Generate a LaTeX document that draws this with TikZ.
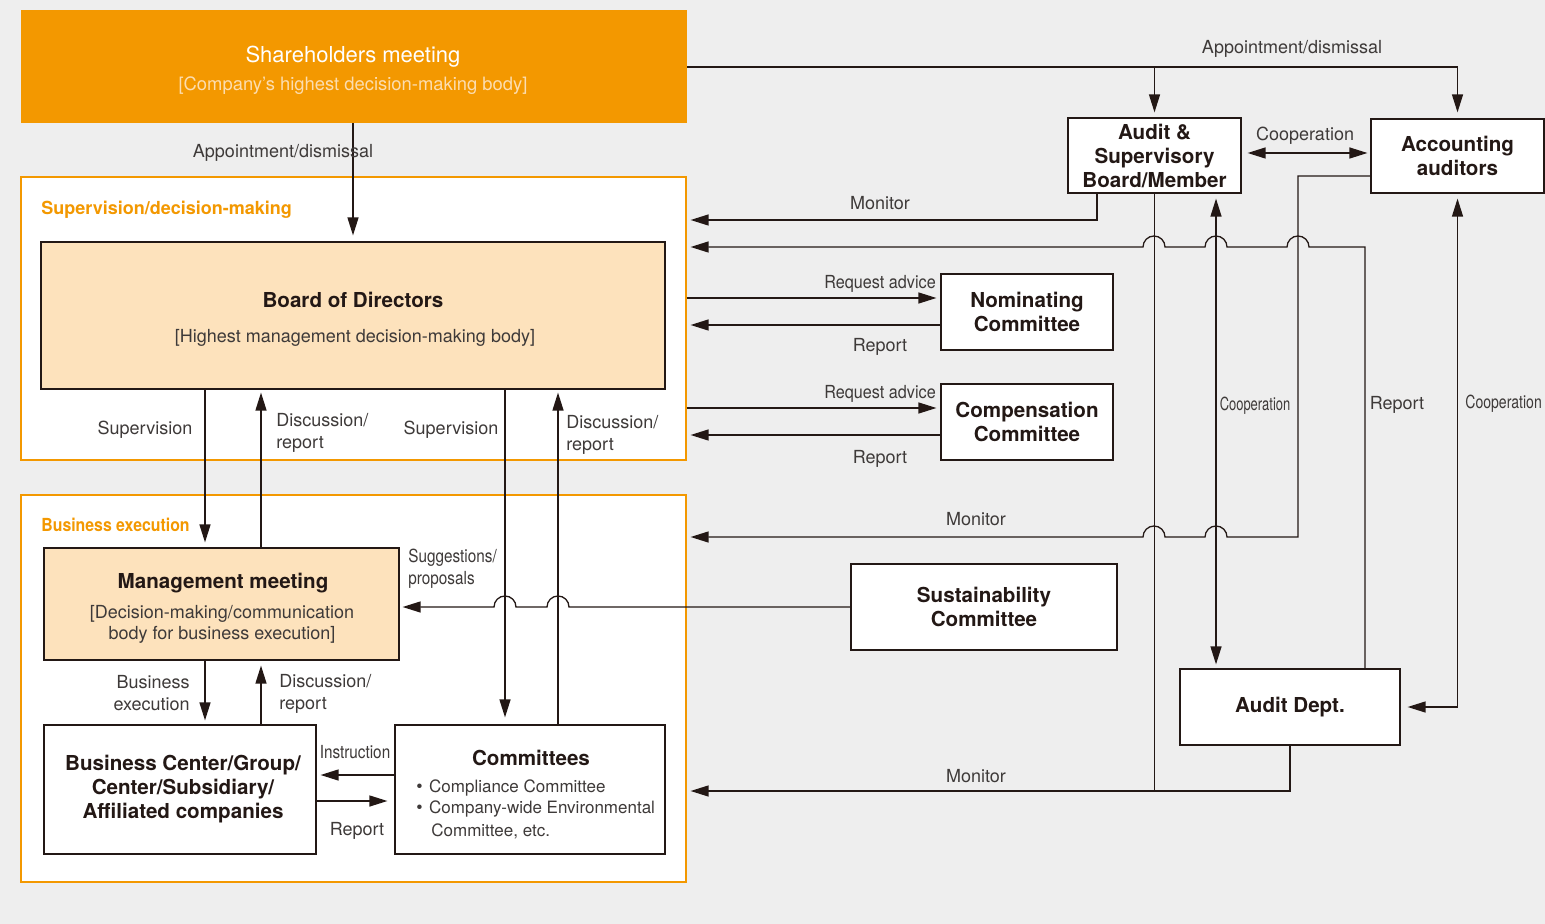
\documentclass[tikz,border=0pt]{standalone}
\usepackage{fontspec}
\usepackage{graphicx}
\setmainfont{TeX Gyre Heros}
\usetikzlibrary{arrows.meta}
\definecolor{bg}{HTML}{EEEEEE}
\definecolor{org}{HTML}{F39800}
\definecolor{peach}{HTML}{FDE2BC}
\definecolor{ln}{HTML}{231815}
\definecolor{txt}{HTML}{3E3A39}
\definecolor{cream}{HTML}{FCDDB0}
\newcommand\lblf{\fontsize{9}{11}\selectfont}
\newcommand\boxf{\fontsize{10.3}{12}\selectfont\bfseries}
\newcommand\smallbullet{{\fontsize{9}{10}\selectfont\textbullet}\hspace{3.2pt}}
\begin{document}
\begin{tikzpicture}[x=0.5pt,y=-0.5pt,
  box/.style={draw=ln,line width=0.6pt,fill=white,inner sep=0pt,align=center,font=\boxf,text=ln},
  region/.style={draw=org,line width=0.6pt,fill=white,inner sep=0pt},
  lbl/.style={font=\lblf,text=txt,inner sep=0pt,yshift=-1.2pt},
  btxt/.style={inner sep=0pt,font=\boxf,text=ln,yshift=-1pt},
  olbl/.style={anchor=west,inner sep=0pt,font=\fontsize{9}{11}\selectfont\bfseries,text=org,yshift=-1.2pt},
  arr/.style={draw=ln,line width=0.65pt,-{Triangle[length=9pt,width=5.5pt]}},
  darr/.style={draw=ln,line width=0.65pt,{Triangle[length=9pt,width=5.5pt]}-{Triangle[length=9pt,width=5.5pt]}},
  wire/.style={draw=ln,line width=0.65pt}]
\fill[bg] (0,0) rectangle (1545,924);
\useasboundingbox (0,0) rectangle (1545,924);
\clip (0,0) rectangle (1545,924);

% coordinates
\coordinate (xR) at (1365,0);
\coordinate (xH1) at (1154,0);
\coordinate (xH2) at (1216,0);
\coordinate (xH3) at (1298,0);
\coordinate (x205) at (205,0);
\coordinate (x261) at (261,0);
\coordinate (x353) at (353,0);
\coordinate (x505) at (505,0);
\coordinate (x558) at (558,0);
\coordinate (x1097) at (1097,0);
\coordinate (yRep) at (0,247);
\coordinate (yMon1) at (0,220);
\coordinate (yMon2) at (0,537);
\coordinate (yMon3) at (0,791);
\coordinate (y67) at (0,67);
\coordinate (y153) at (0,153);
\coordinate (y176) at (0,176);
\coordinate (y298) at (0,298);
\coordinate (y325) at (0,325);
\coordinate (y408) at (0,408);
\coordinate (y435) at (0,435);
\coordinate (y775) at (0,775);
\coordinate (y801) at (0,801);

% regions
\node[region,minimum width=332.5pt,minimum height=141.5pt] (supv) at (353.5,318.5) {};
\node[region,minimum width=332.5pt,minimum height=193.5pt] (bexec) at (353.5,688.5) {};
\node[olbl] (supvl) at (41,207) {Supervision/decision-making};
\node[olbl] (bexecl) at (41,522) {\scalebox{0.88}[1]{Business execution}};

% shareholders
\node[fill=org,inner sep=0pt,minimum width=333pt,minimum height=56.5pt] (sh) at (354,66.5) {};
\node[inner sep=0pt,text=white,font=\fontsize{11}{13}\selectfont,yshift=-1.2pt] (sht) at (353,54) {Shareholders meeting};
\node[inner sep=0pt,text=cream,font=\fontsize{9.2}{11}\selectfont,yshift=-1.2pt] (shs) at (353,83) {[Company’s highest decision-making body]};

% boxes
\node[box,fill=peach,minimum width=312pt,minimum height=73.5pt] (board) at (353,315.5) {};
\node[btxt] (boardt) at (353,298) {Board of Directors};
\node[lbl] (boards) at (355,336) {[Highest management decision-making body]};

\node[box,fill=peach,minimum width=177.5pt,minimum height=56pt] (mgmt) at (221.5,604) {};
\node[btxt] (mgmtt) at (223,581) {Management meeting};
\node[lbl,align=center,font=\fontsize{9}{10.5}\selectfont] (mgmts) at (222,621.5) {[Decision-making/communication\\body for business execution]};

\node[box,minimum width=136pt,minimum height=64.5pt] (bc) at (180,789.5) {\hspace*{3pt}Business Center/Group/\\\hspace*{3pt}Center/Subsidiary/\\\hspace*{3pt}Affiliated companies};

\node[box,minimum width=135pt,minimum height=64.5pt] (comm) at (530,789.5) {};
\node[btxt] (commt) at (531,756) {Committees};
\node[lbl,anchor=west,font=\fontsize{8.5}{10}\selectfont] (c1) at (416,786) {\smallbullet Compliance Committee};
\node[lbl,anchor=west,font=\fontsize{8.5}{10}\selectfont] (c2) at (416,807) {\smallbullet Company-wide Environmental};
\node[lbl,anchor=west,font=\fontsize{8.5}{10}\selectfont] (c3) at (431,829) {Committee, etc.};

\node[box,minimum width=86pt,minimum height=38pt] (nom) at (1027,312) {Nominating\\Committee};
\node[box,minimum width=86pt,minimum height=38pt] (comp) at (1027,422) {Compensation\\Committee};
\node[box,minimum width=86.5pt,minimum height=37.5pt] (aud) at (1154.5,155.5) {Audit \&\\Supervisory\\Board/Member};
\node[box,minimum width=86.5pt,minimum height=37pt] (acc) at (1457.5,156) {Accounting\\auditors};
\node[box,minimum width=133pt,minimum height=43pt] (sus) at (984,607) {Sustainability\\Committee};
\node[box,minimum width=110pt,minimum height=38pt] (adept) at (1290,707) {Audit Dept.};

% connectors: top
\draw[arr,shorten >=3pt] (sh.east |- y67) -| (acc.north);
\draw[arr,shorten >=2.5pt] (aud.north |- y67) -- (aud.north);
\draw[arr,shorten >=3pt] (sh.south -| x353) -- (board.north -| x353);
\draw[darr,shorten >=1.5pt,shorten <=3pt] (aud.east |- y153) -- (acc.west |- y153);

% board <-> management / committees
\draw[arr,shorten >=2.5pt] (board.south -| x205) -- (mgmt.north -| x205);
\draw[arr,shorten >=1.5pt] (mgmt.north -| x261) -- (board.south -| x261);
\draw[arr,shorten >=3.5pt] (board.south -| x505) -- (comm.north -| x505);
\draw[arr,shorten >=1.5pt] (comm.north -| x558) -- (board.south -| x558);
\draw[arr,shorten >=2pt] (mgmt.south -| x205) -- (bc.north -| x205);
\draw[arr,shorten >=2.5pt] (bc.north -| x261) -- (mgmt.south -| x261);
\draw[arr,shorten >=2pt] (comm.west |- y775) -- (bc.east |- y775);
\draw[arr,shorten >=3.5pt] (bc.east |- y801) -- (comm.west |- y801);

% nominating / compensation
\draw[arr,shorten >=2pt] (supv.east |- y298) -- (nom.west |- y298);
\draw[arr,shorten >=2pt] (nom.west |- y325) -- (supv.east |- y325);
\draw[arr,shorten >=2pt] (supv.east |- y408) -- (comp.west |- y408);
\draw[arr,shorten >=2pt] (comp.west |- y435) -- (supv.east |- y435);

% audit lines
\draw[arr,shorten >=2pt] (aud.south -| x1097) |- (supv.east |- yMon1);
\draw[wire] (aud.south) -- (aud.south |- yMon3);
\draw[darr,shorten >=2pt,shorten <=2.5pt] (aud.south -| xH2) -- (adept.north -| xH2);
\draw[arr,shorten >=2pt] (adept.north -| xR) |- ([xshift=5.5pt]xH3 |- yRep)
  arc[start angle=0,end angle=180,radius=5.5pt] -- ([xshift=5.5pt]xH2 |- yRep)
  arc[start angle=0,end angle=180,radius=5.5pt] -- ([xshift=5.5pt]xH1 |- yRep)
  arc[start angle=0,end angle=180,radius=5.5pt] -- (supv.east |- yRep);
\draw[arr,shorten >=2pt] (acc.west |- y176) -| (xH3 |- yMon2) -- ([xshift=5.5pt]xH2 |- yMon2)
  arc[start angle=0,end angle=180,radius=5.5pt] -- ([xshift=5.5pt]xH1 |- yMon2)
  arc[start angle=0,end angle=180,radius=5.5pt] -- (bexec.east |- yMon2);
\draw[arr,shorten >=2pt] (adept.south) |- (bexec.east |- yMon3);
\draw[darr,shorten >=3.5pt,shorten <=2.5pt] (acc.south) |- (adept.east);
\draw[arr,shorten >=1.5pt] (sus.west) -- ([xshift=5.5pt]x558 |- sus.west)
  arc[start angle=0,end angle=180,radius=5.5pt] -- ([xshift=5.5pt]x505 |- sus.west)
  arc[start angle=0,end angle=180,radius=5.5pt] -- (mgmt.east |- sus.west);

% labels
\node[lbl] (l1) at (1292,47) {Appointment/dismissal};
\node[lbl] (l2) at (283,151) {Appointment/dismissal};
\node[lbl] (l3) at (1305,133) {Cooperation};
\node[lbl] (l4) at (880,201) {Monitor};
\node[lbl] (l5) at (880,282) {\scalebox{0.9}[1]{Request advice}};
\node[lbl] (l6) at (880,345) {Report};
\node[lbl] (l7) at (880,392) {\scalebox{0.9}[1]{Request advice}};
\node[lbl] (l8) at (880,456) {Report};
\node[lbl] (l9) at (145,427) {Supervision};
\node[lbl] (l10) at (451,427) {Supervision};
\node[lbl,anchor=west,align=left] (l11) at (276,431) {Discussion/\\report};
\node[lbl,anchor=west,align=left] (l12) at (566,433) {Discussion/\\report};
\node[lbl] (l13) at (1255,403) {\scalebox{0.72}[1]{Cooperation}};
\node[lbl] (l14) at (1397,403) {Report};
\node[lbl,anchor=west] (l15) at (1465,401) {\scalebox{0.78}[1]{Cooperation}};
\node[lbl] (l16) at (976,517) {Monitor};
\node[lbl,anchor=west,align=left] (l17) at (408,566) {\scalebox{0.85}[1]{Suggestions/}\\\scalebox{0.85}[1]{proposals}};
\node[lbl,anchor=east,align=right] (l18) at (190,691) {Business\\execution};
\node[lbl,anchor=west,align=left] (l19) at (279,691) {Discussion/\\report};
\node[lbl] (l20) at (355,750) {\scalebox{0.85}[1]{Instruction}};
\node[lbl] (l21) at (357,828) {Report};
\node[lbl] (l22) at (976,774) {Monitor};
\end{tikzpicture}
\end{document}
